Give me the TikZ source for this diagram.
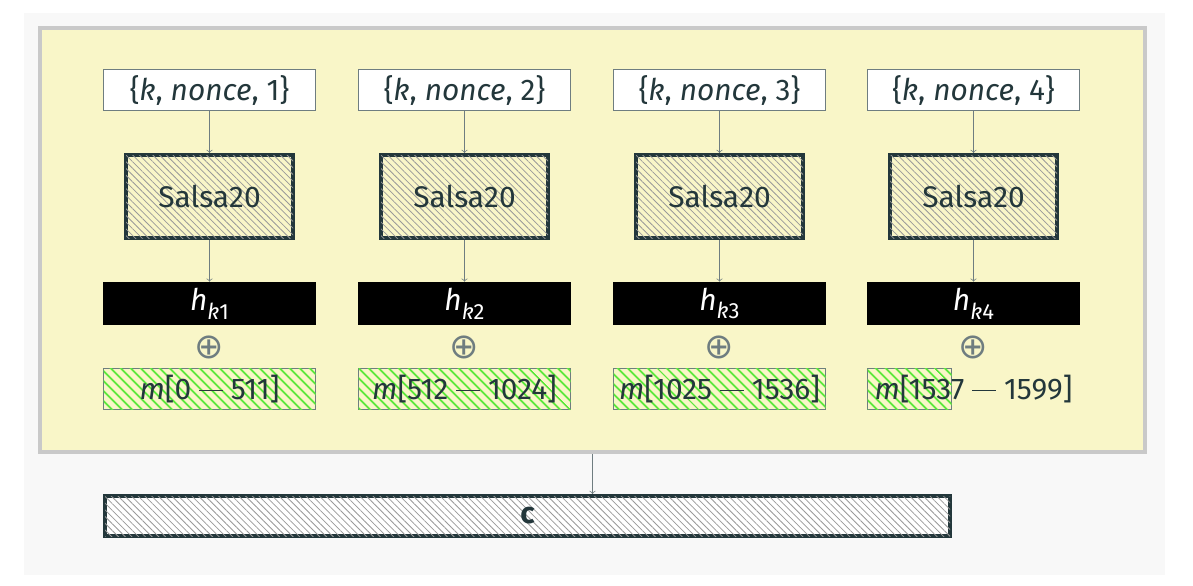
\documentclass[tikz,border=0pt]{standalone}
\usepackage{fontspec}
\setmainfont{Fira Sans}
\newfontfamily\symfont{DejaVu Sans}
\usetikzlibrary{patterns.meta}
\definecolor{darkteal}{HTML}{23373B}
\definecolor{framebg}{HTML}{F9F6C8}
\definecolor{pagebg}{HTML}{F8F8F8}
\definecolor{framegray}{HTML}{C9C9C9}
\definecolor{linegray}{HTML}{6F7D80}
\definecolor{hatchgreen}{HTML}{5CE83C}
\newcommand{\hk}[1]{{\itshape h}\raisebox{-0.55ex}{\fontsize{12.5}{12}\selectfont\itshape k\upshape #1}}
\newcommand{\mminus}{\rule[0.27em]{0.8em}{0.055em}}

\begin{document}
\begin{tikzpicture}[font=\fontsize{17}{20}\selectfont,
			inbox/.style={draw=linegray, fill=white, text=darkteal, minimum width=4.24cm, minimum height=0.82cm, inner sep=0pt},
			salsabox/.style={draw=darkteal, line width=2.3pt, fill=framebg, postaction={pattern={Lines[angle=-45, distance=2.7pt, line width=0.45pt]}, pattern color=gray!80}, text=darkteal, minimum width=3.34cm, minimum height=1.66cm},
			hbox/.style={fill=black, text=white, minimum width=4.26cm, minimum height=0.86cm, inner sep=0pt},
			mbox/.style={draw=linegray, fill=framebg, postaction={pattern={Lines[angle=-45, distance=4pt, line width=1.1pt]}, pattern color=hatchgreen}, text=darkteal, minimum width=4.24cm, minimum height=0.82cm, inner sep=0pt},
			xorsym/.style={text=linegray, font=\symfont\fontsize{20}{20}\selectfont}]
			\useasboundingbox (0,0) rectangle (23.86,-11.72);
			\fill[pagebg] (0.48,-0.26) rectangle (23.30,-11.50);
			\node[draw=framegray, line width=2.3pt, fill=framebg, minimum width=22.11cm, minimum height=8.49cm] (frame) at (11.85,-4.80) {};
			
			\node[inbox] (in1) at (4.19,-1.80) {\{\textit{k}, \textit{nonce}, 1\}};
			\node[inbox] (in2) at (9.29,-1.80) {\{\textit{k}, \textit{nonce}, 2\}};
			\node[inbox] (in3) at (14.39,-1.80) {\{\textit{k}, \textit{nonce}, 3\}};
			\node[inbox] (in4) at (19.47,-1.80) {\{\textit{k}, \textit{nonce}, 4\}};
			
			\node[salsabox] (salsa1) at (4.19,-3.93) {Salsa20};
			\node[salsabox] (salsa2) at (9.29,-3.93) {Salsa20};
			\node[salsabox] (salsa3) at (14.39,-3.93) {Salsa20};
			\node[salsabox] (salsa4) at (19.47,-3.93) {Salsa20};
			
			\node[hbox] (h1) at (4.19,-6.07) {\hk{1}};
			\node[hbox] (h2) at (9.29,-6.07) {\hk{2}};
			\node[hbox] (h3) at (14.39,-6.07) {\hk{3}};
			\node[hbox] (h4) at (19.47,-6.07) {\hk{4}};
			
			\node[xorsym] (xor1) at (4.19,-6.94) {⊕};
			\node[xorsym] (xor2) at (9.29,-6.94) {⊕};
			\node[xorsym] (xor3) at (14.39,-6.94) {⊕};
			\node[xorsym] (xor4) at (19.47,-6.94) {⊕};
			
			\node[mbox] (m1) at (4.19,-7.78) {\textit{m}[0 \mminus\ 511]};
			\node[mbox] (m2) at (9.29,-7.78) {\textit{m}[512 \mminus\ 1024]};
			\node[mbox] (m3) at (14.39,-7.78) {\textit{m}[1025 \mminus\ 1536]};
			\node[mbox, minimum width=1.68cm] (m4box) at (18.19,-7.78) {};
			\node[text=darkteal] (m4) at (19.47,-7.78) {\textit{m}[1537 \mminus\ 1599]};
			
			\node[draw=darkteal, line width=2.3pt, fill=white, postaction={pattern={Lines[angle=-45, distance=2.7pt, line width=0.45pt]}, pattern color=gray!80}, text=darkteal, minimum width=16.9cm, minimum height=0.80cm, inner sep=0pt] (cbox) at (10.55,-10.32) {\bfseries c};
			
			\draw[->, linegray] (in1) -- (salsa1);
			\draw[->, linegray] (in2) -- (salsa2);
			\draw[->, linegray] (in3) -- (salsa3);
			\draw[->, linegray] (in4) -- (salsa4);
			\draw[->, linegray] (salsa1) -- (h1);
			\draw[->, linegray] (salsa2) -- (h2);
			\draw[->, linegray] (salsa3) -- (h3);
			\draw[->, linegray] (salsa4) -- (h4);
			\draw[->, linegray] (frame.south) -- (frame.south |- cbox.north);
			
\end{tikzpicture}
\end{document}
